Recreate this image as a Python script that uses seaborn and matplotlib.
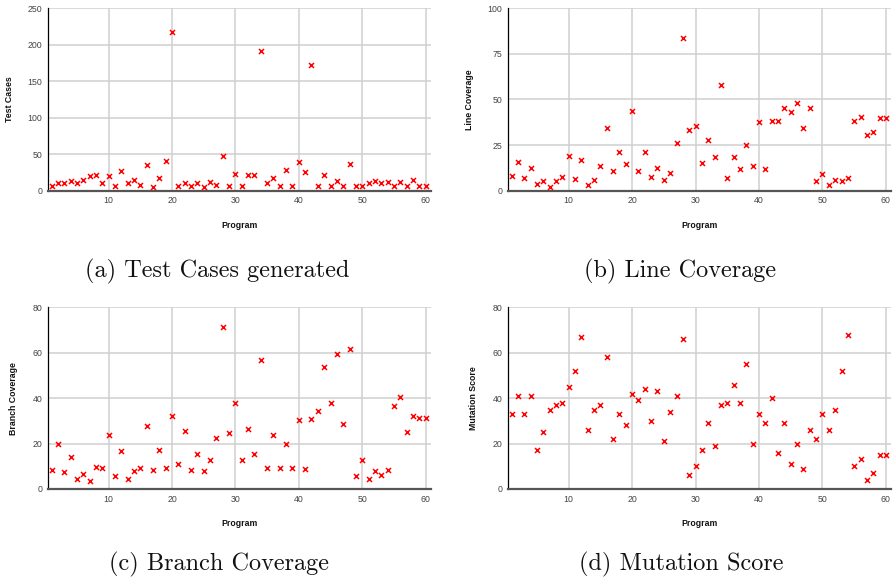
import matplotlib
matplotlib.use("Agg")
import matplotlib.pyplot as plt
import seaborn as sns
import pandas as pd

programs = list(range(1, 61))

test_cases = [6, 10, 11, 13, 11, 14, 20, 21, 11, 20,
              7, 27, 11, 15, 8, 35, 5, 17, 41, 217,
              6, 10, 7, 10, 5, 12, 8, 47, 7, 23,
              6, 21, 22, 192, 11, 18, 7, 28, 7, 39,
              26, 172, 6, 21, 6, 13, 7, 36, 6, 7,
              11, 13, 11, 12, 7, 12, 7, 15, 7, 7]

line_coverage = [8.2, 15.9, 6.9, 12.6, 3.5, 5.3, 2.0, 5.3, 7.3, 18.8,
                 6.4, 17.0, 2.9, 5.7, 13.5, 34.6, 11.0, 21.2, 14.4, 43.7,
                 11.0, 21.2, 7.7, 12.6, 5.7, 9.9, 26.1, 83.9, 33.5, 35.5,
                 15.0, 27.6, 18.3, 58.1, 6.9, 18.6, 11.7, 25.0, 13.3, 37.7,
                 11.7, 38.2, 38.4, 45.2, 43.3, 48.1, 34.2, 45.2, 5.5, 9.3,
                 3.1, 6.0, 5.1, 7.1, 38.4, 40.6, 30.5, 32.4, 39.9, 39.9]

branch_coverage = [8.2, 19.7, 7.6, 14.2, 4.3, 6.6, 3.5, 9.5, 9.1, 23.8,
                   5.7, 16.6, 4.6, 8.1, 9.3, 27.8, 8.2, 17.0, 9.1, 32.2,
                   10.9, 25.6, 8.4, 15.4, 7.8, 12.8, 22.5, 71.4, 24.5, 37.7,
                   12.9, 26.6, 15.3, 56.7, 9.1, 23.8, 9.4, 19.7, 9.1, 30.4,
                   8.7, 30.7, 34.2, 53.5, 37.7, 59.5, 28.5, 61.8, 5.9, 12.9,
                   4.4, 8.1, 6.2, 8.5, 36.7, 40.5, 25.3, 32.3, 31.1, 31.1]

mutation_score = [33, 41, 33, 41, 17, 25, 35, 37, 38, 45,
                  52, 67, 26, 35, 37, 58, 22, 33, 28, 42,
                  39, 44, 30, 43, 21, 34, 41, 66, 6, 10,
                  17, 29, 19, 37, 38, 46, 38, 55, 20, 33,
                  29, 40, 16, 29, 11, 20, 9, 26, 22, 33,
                  26, 35, 52, 68, 10, 13, 4, 7, 15, 15]

panels = [
    ("Test Cases", test_cases, 250, [0, 50, 100, 150, 200, 250], "(a) Test Cases generated"),
    ("Line Coverage", line_coverage, 100, [0, 25, 50, 75, 100], "(b) Line Coverage"),
    ("Branch Coverage", branch_coverage, 80, [0, 20, 40, 60, 80], "(c) Branch Coverage"),
    ("Mutation Score", mutation_score, 80, [0, 20, 40, 60, 80], "(d) Mutation Score"),
]
x_ticks = [10, 20, 30, 40, 50, 60]

sns.set_theme(style="whitegrid")
plt.rcParams["font.family"] = ["Liberation Sans", "DejaVu Sans"]

W, H = 893, 583
fig = plt.figure(figsize=(W / 100, H / 100), dpi=100)

boxes = [
    (47.7, 8.3, 430.7, 190.7),
    (507.7, 8.3, 891.0, 190.7),
    (47.7, 307.3, 430.7, 489.0),
    (507.7, 307.3, 891.0, 489.0),
]
caption_y = [271, 271, 564, 564]
caption_x = [217, 680, 219, 681]

for (ylabel, vals, ymax, yticks, caption), (l, t, r, b), cy, cx in zip(panels, boxes, caption_y, caption_x):
    ax = fig.add_axes([l / W, 1 - b / H, (r - l) / W, (b - t) / H])
    df = pd.DataFrame({"Program": programs, ylabel: vals})
    sns.scatterplot(data=df, x="Program", y=ylabel, ax=ax, marker="x",
                    color="#ff0000", s=13, linewidth=1.1, zorder=3)
    ax.set_xlim(0.4, 60.8)
    ax.set_ylim(0, ymax)
    ax.set_xticks(x_ticks)
    ax.set_yticks(yticks)
    ax.grid(True, color="#d0d0d0", linewidth=1.1)
    ax.set_axisbelow(True)
    for s in ["top", "right"]:
        ax.spines[s].set_visible(False)
    ax.spines["left"].set_color("#000000")
    ax.spines["left"].set_linewidth(0.9)
    ax.spines["bottom"].set_color("#555555")
    ax.spines["bottom"].set_linewidth(1.6)
    ax.tick_params(axis="both", length=0, labelsize=6.3, labelcolor="#444444", pad=4)
    ax.set_xlabel("Program", fontsize=6.3, fontweight="bold", color="#111111", labelpad=11)
    ax.set_ylabel(ylabel, fontsize=6.3, fontweight="bold", color="#111111", labelpad=10)
    fig.text(cx / W, 1 - cy / H, caption, ha="center", va="center",
             fontsize=17.5, family="cmr10", color="#111111")

fig.savefig("out.png", dpi=100)
